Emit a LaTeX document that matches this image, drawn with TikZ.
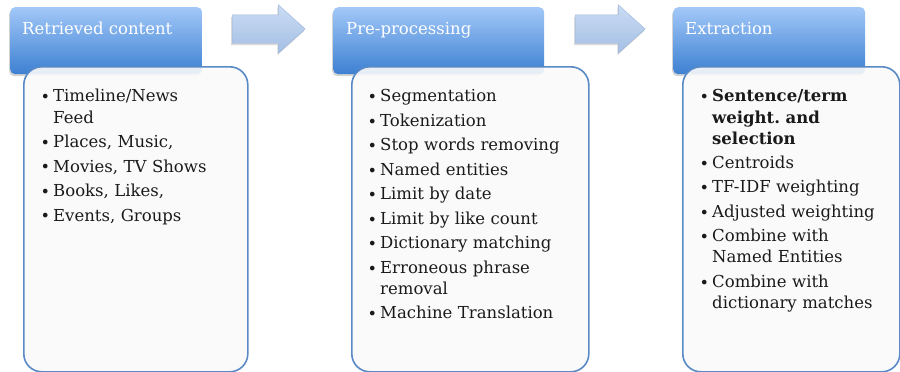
\documentclass[tikz,border=0pt]{standalone}
\usepackage{fontspec}
\setmainfont{DejaVu Serif}
\usetikzlibrary{shapes.arrows,shadows,positioning}
\definecolor{headtop}{HTML}{A2C8F8}
\definecolor{headbot}{HTML}{3D80D2}
\definecolor{bodyline}{HTML}{5A8AC6}
\definecolor{bodyfill}{HTML}{FAFAFA}
\definecolor{arrowtop}{HTML}{CADCF3}
\definecolor{arrowbot}{HTML}{A4BFE5}
\definecolor{arrowline}{HTML}{9DB6DA}
\definecolor{itemtext}{HTML}{1A1A1A}
% one bullet point, hanging indent for wrapped lines
\newcommand\bitem[1]{\par\hangindent=10pt\hangafter=1\noindent
  \makebox[10pt][l]{\hspace{-2.5pt}\raisebox{-0.8pt}{\fontsize{16}{16}\selectfont\textbullet}}\strut#1\par}
\begin{document}
\begin{tikzpicture}[x=1pt,y=1pt,
  stagehead/.style={rounded corners=5pt, top color=headtop, bottom color=headbot,
    minimum height=67pt, inner sep=0, anchor=north west,
    drop shadow={shadow xshift=-1pt, shadow yshift=-2pt, opacity=0.35}},
  stagetitle/.style={text=white, font=\fontsize{16.5}{21}\selectfont,
    inner sep=0, text height=12pt, text depth=0pt},
  stagebody/.style={draw=bodyline, line width=1.6pt, rounded corners=18pt,
    fill=bodyfill, fill opacity=0.9, minimum height=305pt, inner sep=0,
    anchor=north west},
  itemlist/.style={text=itemtext, font=\fontsize{16.5}{21}\selectfont,
    text width=210pt, align=left, inner sep=0,
    execute at begin node={\setlength\parskip{3.5pt}\frenchspacing}},
  steparrow/.style={single arrow, single arrow head extend=10pt,
    single arrow tip angle=84, inner sep=14pt, top color=arrowtop,
    bottom color=arrowbot, draw=arrowline, line width=0.4pt, anchor=tail,
    drop shadow={shadow xshift=-1pt, shadow yshift=-2pt, opacity=0.3}}]
\useasboundingbox (0,0) rectangle (900,-372);

% arrows between the stages
\foreach \name/\x/\len in {arrow1/232/73, arrow2/575/70}{
  \node[steparrow, minimum height=\len pt] (\name) at (\x,-29) {};
}

% stage headers
\node[stagehead, minimum width=192pt] (head1) at (10,-7) {};
\node[stagehead, minimum width=211pt] (head2) at (333,-7) {};
\node[stagehead, minimum width=192pt] (head3) at (673,-7) {};

% stage bodies
\node[stagebody, minimum width=224pt] (body1) at (23,-66) {};
\node[stagebody, minimum width=237pt] (body2) at (351,-66) {};
\node[stagebody, minimum width=217pt] (body3) at (682,-66) {};

\node[stagetitle, below right=15pt and 12pt of head1.north west] (title1) {Retrieved content};
\node[stagetitle, below right=15pt and 13pt of head2.north west] (title2) {Pre-processing};
\node[stagetitle, below right=15pt and 12pt of head3.north west] (title3) {Extraction};

\node[itemlist, below right=11.3pt and 20pt of body1.north west] (list1) {%
  \bitem{Timeline/News\newline Feed}
  \bitem{Places, Music,}
  \bitem{Movies, TV Shows}
  \bitem{Books, Likes,}
  \bitem{Events, Groups}};
\node[itemlist, below right=11.3pt and 19pt of body2.north west] (list2) {%
  \bitem{Segmentation}
  \bitem{Tokenization}
  \bitem{Stop words removing}
  \bitem{Named entities}
  \bitem{Limit by date}
  \bitem{Limit by like count}
  \bitem{Dictionary matching}
  \bitem{Erroneous phrase\newline removal}
  \bitem{Machine Translation}};
\node[itemlist, below right=11.3pt and 20pt of body3.north west] (list3) {%
  \bitem{\textbf{Sentence/term\newline weight. and\newline selection}}
  \bitem{Centroids}
  \bitem{TF-IDF weighting}
  \bitem{Adjusted weighting}
  \bitem{Combine with\newline Named Entities}
  \bitem{Combine with\newline dictionary matches}};
\end{tikzpicture}
\end{document}
